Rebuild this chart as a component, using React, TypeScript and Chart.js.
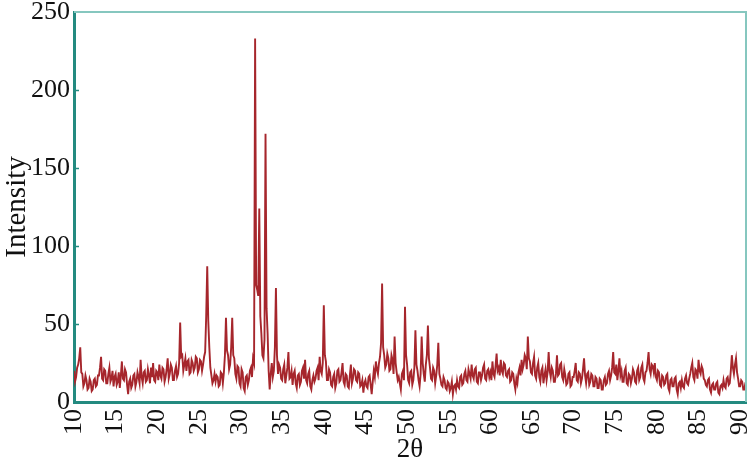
import React, { useEffect, useRef } from "react";
import { Chart, registerables } from "chart.js";

Chart.register(...registerables);

// 2θ sampling: rows start at each whole degree, 8 readings per degree (step 0.125°)
const START_ANGLE = 10;
const STEP = 0.125;

// Intensity readings, one row per degree (10°, 11°, ... 90°)
const intensityRows: number[][] = [
  [20, 13, 16, 22, 24, 28, 35, 19], // 10
  [18, 10, 12, 17, 14, 8, 9, 15], // 11
  [13, 7, 8, 14, 15, 10, 11, 17], // 12
  [17, 22, 29, 15, 14, 21, 20, 12], // 13
  [12, 18, 22, 13, 15, 20, 10, 16], // 14
  [18, 11, 13, 19, 9, 17, 26, 15], // 15
  [14, 21, 19, 11, 5, 13, 15, 9], // 16
  [11, 17, 18, 10, 13, 19, 16, 12], // 17
  [27, 16, 12, 19, 20, 13, 14, 21], // 18
  [17, 12, 22, 16, 25, 14, 13, 20], // 19
  [19, 14, 24, 17, 15, 22, 21, 13], // 20
  [16, 21, 28, 15, 18, 24, 22, 14], // 21
  [14, 20, 23, 16, 18, 25, 51, 29], // 22
  [30, 20, 24, 28, 20, 26, 27, 18], // 23
  [19, 27, 25, 20, 22, 29, 28, 19], // 24
  [21, 27, 26, 20, 24, 29, 32, 55], // 25
  [87, 52, 35, 22, 17, 12, 14, 18], // 26
  [13, 17, 16, 10, 11, 19, 18, 12], // 27
  [19, 30, 54, 33, 30, 21, 24, 35], // 28
  [54, 30, 28, 18, 15, 23, 22, 12], // 29
  [10, 21, 19, 9, 7, 16, 17, 11], // 30
  [14, 20, 22, 16, 28, 25, 233, 75], // 31
  [72, 68, 124, 55, 44, 30, 28, 40], // 32
  [172, 60, 44, 20, 8, 18, 25, 16], // 33
  [20, 35, 73, 30, 18, 24, 22, 15], // 34
  [14, 21, 24, 12, 17, 22, 32, 15], // 35
  [16, 20, 11, 18, 20, 12, 9, 17], // 36
  [18, 11, 13, 20, 22, 15, 27, 14], // 37
  [12, 18, 20, 10, 8, 14, 17, 13], // 38
  [15, 20, 22, 14, 29, 20, 18, 25], // 39
  [62, 30, 26, 14, 14, 21, 19, 11], // 40
  [10, 16, 18, 9, 12, 20, 21, 13], // 41
  [14, 19, 25, 13, 11, 18, 17, 10], // 42
  [9, 17, 24, 12, 15, 21, 20, 14], // 43
  [13, 19, 18, 10, 11, 14, 6, 12], // 44
  [14, 10, 9, 16, 17, 11, 5, 13], // 45
  [20, 16, 26, 21, 18, 25, 29, 38], // 46
  [76, 35, 30, 22, 24, 31, 28, 20], // 47
  [21, 30, 27, 18, 42, 25, 19, 14], // 48
  [16, 12, 8, 18, 20, 14, 61, 30], // 49
  [24, 14, 12, 19, 20, 11, 14, 22], // 50
  [46, 24, 20, 14, 10, 18, 42, 25], // 51
  [18, 13, 24, 30, 49, 28, 22, 15], // 52
  [14, 22, 20, 12, 17, 24, 38, 18], // 53
  [15, 11, 10, 16, 14, 9, 8, 13], // 54
  [12, 7, 9, 13, 5, 10, 11, 8], // 55
  [14, 10, 9, 16, 17, 11, 12, 18], // 56
  [20, 14, 13, 21, 18, 15, 24, 17], // 57
  [15, 21, 22, 13, 12, 19, 19, 14], // 58
  [17, 22, 24, 15, 14, 20, 21, 16], // 59
  [19, 14, 26, 18, 16, 23, 31, 20], // 60
  [22, 17, 27, 20, 18, 25, 24, 17], // 61
  [16, 20, 21, 13, 14, 19, 18, 12], // 62
  [8, 15, 12, 19, 22, 17, 27, 21], // 63
  [24, 30, 28, 21, 42, 28, 26, 19], // 64
  [18, 25, 29, 17, 15, 22, 25, 16], // 65
  [13, 20, 22, 12, 17, 21, 14, 19], // 66
  [32, 20, 16, 22, 20, 13, 13, 18], // 67
  [30, 17, 18, 24, 25, 16, 14, 21], // 68
  [17, 11, 12, 18, 19, 10, 11, 16], // 69
  [16, 20, 25, 14, 13, 19, 18, 12], // 70
  [15, 21, 28, 17, 12, 18, 19, 11], // 71
  [13, 18, 17, 10, 10, 16, 15, 9], // 72
  [9, 15, 14, 8, 8, 14, 16, 11], // 73
  [12, 18, 20, 14, 17, 22, 32, 19], // 74
  [18, 24, 14, 20, 28, 17, 20, 13], // 75
  [13, 20, 22, 12, 11, 18, 17, 12], // 76
  [15, 21, 19, 13, 12, 20, 22, 14], // 77
  [16, 22, 24, 15, 13, 19, 20, 25], // 78
  [32, 21, 18, 24, 23, 19, 25, 16], // 79
  [14, 20, 19, 11, 10, 17, 16, 11], // 80
  [12, 17, 18, 9, 7, 14, 15, 10], // 81
  [10, 15, 16, 8, 5, 12, 13, 9], // 82
  [14, 10, 9, 15, 17, 12, 11, 15], // 83
  [18, 22, 25, 16, 14, 21, 20, 15], // 84
  [27, 20, 18, 23, 21, 15, 14, 11], // 85
  [10, 14, 15, 8, 6, 11, 12, 8], // 86
  [8, 12, 13, 6, 5, 10, 11, 9], // 87
  [14, 10, 9, 15, 16, 11, 12, 20], // 88
  [30, 22, 18, 24, 28, 19, 15, 10], // 89
  [10, 14, 13, 8, 8, 12, 12, 9], // 90
];

const X_MIN = 10;
const X_MAX = 90.7;
const xTickLabels = [10, 15, 20, 25, 30, 35, 40, 45, 50, 55, 60, 65, 70, 75, 80, 85, 90];
const yTickLabels = [0, 50, 100, 150, 200, 250];

const X_TITLE = "2θ";
const Y_TITLE = "Intensity";

const FONT = "'Liberation Serif', 'Times New Roman', serif";
const AXIS_DARK = "#238a80";
const AXIS_LIGHT = "#86c7bf";
const LINE_COLOR = "#a6262c";

const framePlugin = {
  id: "frame",
  afterDraw(chart: any) {
    const { ctx, chartArea } = chart;
    const { left, right, top, bottom } = chartArea;
    ctx.save();
    ctx.strokeStyle = AXIS_LIGHT;
    ctx.lineWidth = 2;
    ctx.beginPath();
    ctx.moveTo(left, top);
    ctx.lineTo(right, top);
    ctx.lineTo(right, bottom);
    ctx.stroke();
    // small inward ticks on the intensity axis
    const yScale = chart.scales.y;
    ctx.strokeStyle = AXIS_DARK;
    ctx.lineWidth = 1.5;
    yTickLabels.forEach((v) => {
      if (v === 0 || v === 250) return;
      const py = Math.round(yScale.getPixelForValue(v)) + 0.5;
      ctx.beginPath();
      ctx.moveTo(left, py);
      ctx.lineTo(left + 5, py);
      ctx.stroke();
    });
    ctx.restore();
  },
};

const zeroPadding = (scale: any) => {
  scale.paddingLeft = 0;
  scale.paddingRight = 0;
  scale.paddingTop = 0;
  scale.paddingBottom = 0;
};

export default function App() {
  const ref = useRef<HTMLCanvasElement | null>(null);

  useEffect(() => {
    if (!ref.current) return;
    const points: { x: number; y: number }[] = [];
    intensityRows.forEach((row, r) => {
      row.forEach((v, k) => {
        points.push({ x: START_ANGLE + r + k * STEP, y: v });
      });
    });

    const chart = new Chart(ref.current, {
      type: "line",
      data: {
        datasets: [
          {
            data: points,
            borderColor: LINE_COLOR,
            borderWidth: 1.9,
            pointRadius: 0,
            tension: 0,
            fill: false,
          },
        ],
      },
      options: {
        responsive: false,
        animation: false,
        layout: { padding: { top: 12, right: 8, left: 0, bottom: 0 } },
        plugins: {
          legend: { display: false },
          tooltip: { enabled: false },
        },
        scales: {
          x: {
            type: "linear",
            min: X_MIN,
            max: X_MAX,
            grid: { display: false, drawTicks: false },
            border: { display: true, color: AXIS_DARK, width: 3 },
            afterBuildTicks: (scale: any) => {
              scale.ticks = xTickLabels.map((v) => ({ value: v }));
            },
            ticks: {
              autoSkip: false,
              minRotation: 90,
              maxRotation: 90,
              padding: 7,
              color: "#111",
              font: { family: FONT, size: 26 },
              callback: (v: any) => String(v),
            },
            title: {
              display: true,
              text: X_TITLE,
              color: "#111",
              font: { family: FONT, size: 27 },
              padding: { top: 0, bottom: 0 },
            },
            afterFit: (scale: any) => {
              scale.height = 64;
              zeroPadding(scale);
            },
          },
          y: {
            type: "linear",
            min: 0,
            max: 250,
            grid: { display: false, drawTicks: false },
            border: { display: true, color: AXIS_DARK, width: 3 },
            afterBuildTicks: (scale: any) => {
              scale.ticks = yTickLabels.map((v) => ({ value: v }));
            },
            ticks: {
              padding: 4,
              color: "#111",
              font: { family: FONT, size: 26 },
            },
            title: {
              display: true,
              text: Y_TITLE,
              color: "#111",
              font: { family: FONT, size: 29 },
              padding: { top: 0, bottom: 0 },
            },
            afterFit: (scale: any) => {
              scale.width = 74;
              zeroPadding(scale);
            },
          },
        },
      },
      plugins: [framePlugin],
    });
    return () => chart.destroy();
  }, []);

  return (
    <div style={{ position: "fixed", left: 0, top: 0, width: 754, height: 466, background: "#fff" }}>
      <canvas ref={ref} width={754} height={466} style={{ display: "block" }} />
    </div>
  );
}
